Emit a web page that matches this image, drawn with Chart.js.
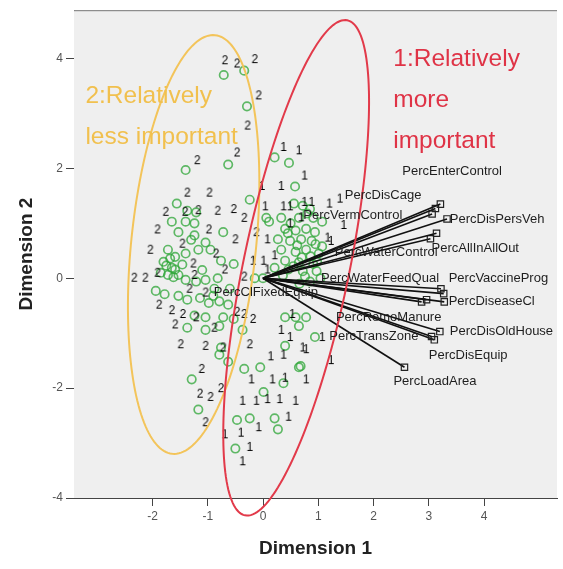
<!DOCTYPE html>
<html>
<head>
<meta charset="utf-8">
<script src="https://cdn.jsdelivr.net/npm/chart.js@4.4.0/dist/chart.umd.min.js"></script>
<style>
  html, body { margin: 0; padding: 0; background: #fff; }
</style>
</head>
<body>
<canvas id="biplot" width="563" height="569"></canvas>
<script>
// object points (green circles)
const circleX = [-0.71,-0.34,-0.29,-0.63,-1.40,0.21,0.47,0.58,-0.24,0.06,
  -1.56,-1.37,-1.21,-1.65,-1.40,-1.24,-1.53,-1.24,-0.72,-1.04,
  -0.95,-1.72,-1.59,-1.40,-1.17,-0.76,-0.53,-1.75,-1.65,-1.59,
  -1.72,-1.53,-1.40,-1.21,-1.04,-0.82,-0.60,-0.88,-1.94,-1.78,
  -1.53,-1.37,-1.14,-0.98,-0.79,-0.63,-1.24,-1.04,-0.72,-0.53,
  -1.37,-1.04,-0.79,-0.37,-0.76,-0.79,-1.29,-1.17,-0.63,-0.34,
  -0.05,0.01,0.37,0.65,0.21,0.27,-0.24,-0.47,-0.50,
  0.40,0.59,0.78,0.65,0.94,0.40,0.68,
  0.56,0.72,0.85,0.11,0.33,0.65,0.91,1.07,0.40,0.59,
  0.78,0.94,0.27,0.49,0.69,0.88,1.07,0.33,0.59,0.78,
  1.01,0.40,0.65,0.91,0.46,0.72,0.97,1.04,0.85,-0.15,
  0.00,0.21,
  0.50,0.80,0.62,0.95,0.70,0.45,0.86,0.55,0.76,0.98,0.36,0.66,
  -1.80,-1.68,-1.62,-1.85,-1.46,-1.30,-1.10,-0.90];
const circleY = [3.70,3.78,3.13,2.07,1.97,2.20,2.10,1.67,1.43,1.10,
  1.36,1.23,1.20,1.03,1.03,1.00,0.84,0.78,0.84,0.65,
  0.52,0.52,0.39,0.45,0.52,0.32,0.26,0.23,0.19,0.16,
  0.06,0.06,-0.03,-0.06,-0.03,0.00,-0.19,-0.19,-0.23,-0.29,
  -0.32,-0.39,-0.36,-0.45,-0.42,-0.48,-0.68,-0.71,-0.71,-0.74,
  -0.90,-0.94,-0.87,-0.94,-1.26,-1.39,-1.84,-2.39,-1.52,-1.65,
  -1.62,-2.07,-1.91,-1.62,-2.55,-2.75,-2.55,-2.58,-3.10,
  -0.71,-0.71,-0.71,-0.87,-1.07,-1.23,-1.60,
  1.36,1.32,1.26,1.03,1.10,1.10,1.10,1.03,0.90,0.87,
  0.90,0.84,0.71,0.68,0.71,0.68,0.58,0.52,0.48,0.52,
  0.45,0.32,0.29,0.26,0.16,0.13,0.13,0.00,-0.06,0.00,
  0.00,0.19,
  1.00,1.18,0.60,0.62,0.38,0.82,0.40,0.22,0.03,0.30,0.05,-0.10,
  0.30,0.36,0.02,0.10,0.25,0.70,0.15,-0.32];

// category labels "1" (relatively more important)
const oneX = [0.37,0.65,0.75,0.33,-0.02,0.37,0.49,0.75,0.88,1.20,
  1.39,0.04,0.69,0.49,1.46,0.08,1.23,-0.18,0.01,0.21,
  0.08,0.53,0.33,0.49,1.07,0.72,0.78,1.23,0.14,0.37,
  -0.21,0.17,0.40,0.78,-0.37,-0.12,0.08,0.30,0.59,0.46,
  -0.08,-0.40,-0.24,-0.37,-0.69,1.17];
const oneY = [2.39,2.33,1.87,1.68,1.68,1.31,1.31,1.39,1.39,1.36,
  1.45,1.31,1.11,1.00,0.97,0.71,0.68,0.32,0.32,0.42,
  0.16,-0.65,-0.94,-1.07,-1.07,-1.26,-1.29,-1.49,-1.42,-1.39,
  -1.84,-1.84,-1.81,-1.84,-2.23,-2.23,-2.20,-2.20,-2.23,-2.52,
  -2.71,-2.81,-3.07,-3.33,-2.84,0.74];

// category labels "2" (relatively less important)
const twoX = [-0.69,-0.47,-0.15,-0.08,-0.28,-0.47,-1.19,-1.37,-0.97,-1.76,
  -1.41,-1.17,-0.82,-0.53,-0.34,-1.91,-0.98,-1.46,-0.50,-0.12,
  -2.04,-0.85,-1.26,-0.69,-2.33,-2.13,-1.91,-1.24,-0.34,-1.33,
  -1.04,-1.88,-1.65,-1.45,-1.21,-1.59,-0.88,-0.47,-0.34,-0.18,
  -1.49,-1.04,-0.72,-0.24,-1.11,-1.14,-0.95,-0.76,-1.04];
const twoY = [3.97,3.91,3.99,3.33,2.78,2.29,2.15,1.56,1.56,1.21,
  1.21,1.24,1.23,1.26,1.10,0.89,0.89,0.63,0.71,0.84,
  0.52,0.45,0.27,0.16,0.01,0.01,0.10,0.06,0.03,-0.19,
  -0.26,-0.48,-0.58,-0.65,-0.71,-0.84,-0.90,-0.61,-0.65,-0.74,
  -1.20,-1.23,-1.26,-1.20,-1.65,-2.10,-2.16,-2.00,-2.62];

// variable vectors (component loadings)
const varNames = ["PercEnterControl","PercDisCage","PercVermControl","PercDisPersVeh",
  "PercAllInAllOut","PercWaterControl","PercWaterFeedQual","PercVaccineProg",
  "PercDiseaseCl","PercRemoManure","PercClFixedEquip","PercTransZone",
  "PercDisOldHouse","PercDisEquip","PercLoadArea"];
const varX = [3.21,3.12,3.06,3.33,3.14,3.03,3.22,3.27,3.28,2.87,2.96,3.05,3.20,3.10,2.56];
const varY = [1.35,1.27,1.17,1.08,0.82,0.72,-0.19,-0.28,-0.43,-0.43,-0.39,-1.06,-0.97,-1.12,-1.62];
// where each variable name sits (left edge, middle)
const labelX = [2.52,1.48,0.73,3.38,3.05,1.30,1.05,3.36,3.36,1.32,-0.89,1.20,3.38,3.00,2.36];
const labelY = [1.95,1.51,1.15,1.08,0.54,0.47,0.00,0.00,-0.43,-0.72,-0.26,-1.06,-0.97,-1.41,-1.87];

const xTicks = [-2, -1, 0, 1, 2, 3, 4];
const yTicks = [-4, -2, 0, 2, 4];

const FONT = '"Liberation Sans", Arial, sans-serif';

function digitMark(ch) {
  const c = document.createElement("canvas");
  c.width = 10; c.height = 14;
  const g = c.getContext("2d");
  g.font = "12px " + FONT;
  g.fillStyle = "#000";
  g.textAlign = "center";
  g.textBaseline = "middle";
  g.fillText(ch, 5, 7.5);
  return c;
}

const toPts = (xs, ys) => xs.map((x, i) => ({ x: x, y: ys[i] }));

const datasets = [];
varX.forEach((vx, i) => {
  datasets.push({
    label: varNames[i],
    data: [{ x: 0, y: 0 }, { x: vx, y: varY[i] }],
    showLine: true,
    borderColor: "#111",
    borderWidth: 1.6,
    pointStyle: "rect",
    pointRadius: [0, 4.5],
    pointBackgroundColor: "rgba(0,0,0,0)",
    pointBorderColor: "#222",
    pointBorderWidth: 1.2,
    order: 1
  });
});
datasets.push({
  label: "1",
  data: toPts(oneX, oneY),
  pointStyle: digitMark("1"),
  pointRadius: 5,
  order: 2
});
datasets.push({
  label: "2",
  data: toPts(twoX, twoY),
  pointStyle: digitMark("2"),
  pointRadius: 5,
  order: 2
});
datasets.push({
  label: "objects",
  data: toPts(circleX, circleY),
  pointStyle: "circle",
  pointRadius: 4.2,
  pointBackgroundColor: "rgba(0,0,0,0)",
  pointBorderColor: "rgba(45,165,55,0.75)",
  pointBorderWidth: 1.7,
  order: 3
});

// ellipses drawn in data space: centre, half axes, tilt in degrees
const ellipses = [
  { cx: -1.255, cy: 0.615, a: 3.83, b: 1.13, deg: 84.2, color: "#f3c45a" },
  { cx: 0.60, cy: 0.19, a: 4.60, b: 0.96, deg: 78.4, color: "#e23a4a" }
];

const notes = [
  { text: "1:Relatively", x: 2.357, y: 3.856, color: "#df3346" },
  { text: "more", x: 2.357, y: 3.117, color: "#df3346" },
  { text: "important", x: 2.357, y: 2.378, color: "#df3346" },
  { text: "2:Relatively", x: -3.214, y: 3.19, color: "#f1c04e" },
  { text: "less important", x: -3.214, y: 2.45, color: "#f1c04e" }
];

const biplotDecor = {
  id: "biplotDecor",
  beforeDatasetsDraw(chart) {
    const { ctx, chartArea: a } = chart;
    ctx.save();
    ctx.fillStyle = "#efefef";
    ctx.fillRect(a.left, a.top, a.right - a.left, a.bottom - a.top);
    ctx.strokeStyle = "#777";
    ctx.lineWidth = 1;
    ctx.beginPath();
    ctx.moveTo(a.left, a.top + 0.5);
    ctx.lineTo(a.right, a.top + 0.5);
    ctx.stroke();
    ctx.restore();
  },
  afterDatasetsDraw(chart) {
    const { ctx } = chart;
    const sx = chart.scales.x, sy = chart.scales.y;
    ctx.save();
    ellipses.forEach(e => {
      const r = e.deg * Math.PI / 180;
      ctx.beginPath();
      for (let k = 0; k <= 180; k++) {
        const t = k / 180 * 2 * Math.PI;
        const dx = e.a * Math.cos(t), dy = e.b * Math.sin(t);
        const px = sx.getPixelForValue(e.cx + dx * Math.cos(r) - dy * Math.sin(r));
        const py = sy.getPixelForValue(e.cy + dx * Math.sin(r) + dy * Math.cos(r));
        if (k === 0) ctx.moveTo(px, py); else ctx.lineTo(px, py);
      }
      ctx.closePath();
      ctx.strokeStyle = e.color;
      ctx.lineWidth = 2;
      ctx.stroke();
    });

    ctx.fillStyle = "#1e1e1e";
    ctx.font = "13px " + FONT;
    ctx.textAlign = "left";
    ctx.textBaseline = "middle";
    varNames.forEach((n, i) => {
      ctx.fillText(n, sx.getPixelForValue(labelX[i]), sy.getPixelForValue(labelY[i]));
    });

    ctx.font = "24.5px " + FONT;
    ctx.textBaseline = "alphabetic";
    notes.forEach(n => {
      ctx.fillStyle = n.color;
      ctx.fillText(n.text, sx.getPixelForValue(n.x), sy.getPixelForValue(n.y));
    });
    ctx.restore();
  }
};

new Chart(document.getElementById("biplot"), {
  type: "scatter",
  data: { datasets: datasets },
  plugins: [biplotDecor],
  options: {
    responsive: false,
    animation: false,
    events: [],
    layout: { padding: { top: 5, right: 0, bottom: 0, left: 0 } },
    plugins: { legend: { display: false }, tooltip: { enabled: false } },
    scales: {
      x: {
        type: "linear",
        min: -3.42,
        max: 5.32,
        afterBuildTicks: s => { s.ticks = xTicks.map(v => ({ value: v })); },
        afterFit: s => { s.height = 71; },
        ticks: { color: "#555", font: { size: 12, family: FONT }, padding: 3 },
        grid: { drawOnChartArea: false, tickLength: 8, color: "#444" },
        border: { color: "#444", width: 1 },
        title: {
          display: true,
          text: "Dimension 1",
          color: "#222",
          font: { size: 19, weight: "bold", family: FONT },
          padding: { top: 4, bottom: 9 }
        }
      },
      y: {
        type: "linear",
        min: -4,
        max: 4.88,
        afterBuildTicks: s => { s.ticks = yTicks.map(v => ({ value: v })); },
        afterFit: s => { s.width = 74; },
        ticks: { color: "#555", font: { size: 12, family: FONT }, padding: 3 },
        grid: { drawOnChartArea: false, tickLength: 8, color: "#444" },
        border: { color: "#444", width: 1 },
        title: {
          display: true,
          text: "Dimension 2",
          color: "#222",
          font: { size: 19, weight: "bold", family: FONT },
          padding: { top: 15, bottom: 4 }
        }
      }
    }
  }
});
</script>
</body>
</html>
